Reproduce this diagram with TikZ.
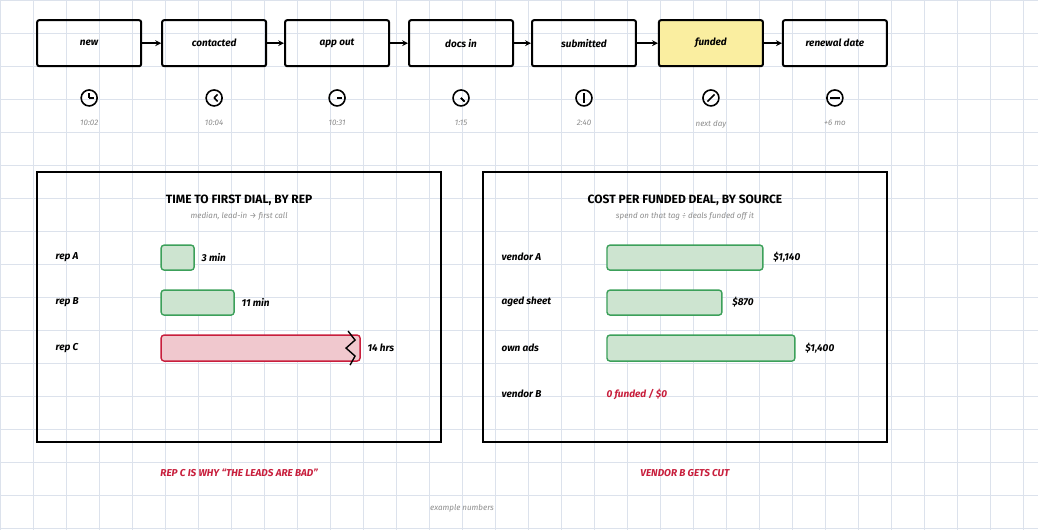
\documentclass[tikz,border=0pt]{standalone}
\usepackage{fontspec}
\setmainfont{Fira Sans}
\usetikzlibrary{positioning}
\definecolor{gridc}{RGB}{220,226,236}
\definecolor{okfill}{RGB}{205,228,208}
\definecolor{okline}{RGB}{60,160,90}
\definecolor{badfill}{RGB}{240,200,206}
\definecolor{badline}{RGB}{200,30,60}
\definecolor{hilite}{RGB}{250,238,160}
\tikzset{
  stage/.style={draw,line width=2pt,rounded corners=2pt,minimum width=104pt,minimum height=46pt,font=\bfseries\itshape},
  clock/.style={circle,draw,line width=1.6pt,minimum size=16pt,inner sep=0pt},
  stamp/.style={font=\itshape\footnotesize,text=black!45},
  panel/.style={draw,line width=2pt},
  good/.style={draw=okline,fill=okfill,line width=1.4pt,rounded corners=3pt},
  bad/.style={draw=badline,fill=badfill,line width=1.4pt,rounded corners=3pt},
  lbl/.style={font=\bfseries\itshape,anchor=west},
  note/.style={font=\bfseries\itshape,text=badline}
}
\begin{document}
\begin{tikzpicture}[x=1pt,y=-1pt,>=stealth]
  \fill[white] (0,0) rectangle (1038,530);
  \foreach \g in {0,33,...,1038} \draw[gridc] (\g,0) -- (\g,530);
  \foreach \g in {0,33,...,530} \draw[gridc] (0,\g) -- (1038,\g);
  \useasboundingbox (0,0) rectangle (1038,530);

  % pipeline
  \node[stage] (new)  at (89,43)  {new};
  \node[stage] (cont) at (214,43) {contacted};
  \node[stage] (app)  at (337,43) {app out};
  \node[stage] (docs) at (461,43) {docs in};
  \node[stage] (sub)  at (584,43) {submitted};
  \node[stage,fill=hilite] (fund) at (711,43) {funded};
  \node[stage] (ren)  at (835,43) {renewal date};
  \foreach \a/\b in {new/cont,cont/app,app/docs,docs/sub,sub/fund,fund/ren}
    \draw[->,line width=1.6pt] (\a) -- (\b);

  % clocks
  \foreach \s/\t/\h/\k in {new/10:02/90/0,cont/10:04/45/-45,app/10:31/0/0,docs/1:15/-45/-45,sub/2:40/90/-90,fund/next day/45/-135,ren/+6 mo/0/180}{
    \node[clock,below=22pt of \s] (c\s) {};
    \draw[line width=1.6pt] (c\s.center) -- ++(\h:5pt);
    \draw[line width=1.6pt] (c\s.center) -- ++(\k:5pt);
    \node[stamp,below=10pt of c\s] (t\s) {\t};
  }

  % left panel
  \draw[panel] (37,172) rectangle (441,442);
  \node[font=\bfseries\large] (ttl) at (239,200) {TIME TO FIRST DIAL, BY REP};
  \node[stamp,below=0pt of ttl] (subl) {median, lead-in → first call};
  \node[lbl] (ra) at (52,257) {rep A};
  \node[lbl] (rb) at (52,302) {rep B};
  \node[lbl] (rc) at (52,348) {rep C};
  \draw[good] (161,245) rectangle (194,270);
  \node[lbl] (va) at (198,257) {3 min};
  \draw[good] (161,290) rectangle (234,315);
  \node[lbl] (vb) at (238,302) {11 min};
  \draw[bad] (161,335) rectangle (360,361);
  \draw[line width=1.4pt] (348,331) -- (355,340) -- (346,348) -- (355,356) -- (350,365);
  \node[lbl] (vc) at (364,348) {14 hrs};

  % right panel
  \draw[panel] (483,172) rectangle (887,442);
  \node[font=\bfseries\large] (ttr) at (685,200) {COST PER FUNDED DEAL, BY SOURCE};
  \node[stamp,below=0pt of ttr] (subr) {spend on that tag ÷ deals funded off it};
  \node[lbl] (sa) at (498,257) {vendor A};
  \node[lbl] (sb) at (498,302) {aged sheet};
  \node[lbl] (sc) at (498,348) {own ads};
  \node[lbl] (sd) at (498,394) {vendor B};
  \draw[good] (607,245) rectangle (763,270);
  \node[lbl] (wa) at (770,257) {\$1,140};
  \draw[good] (607,290) rectangle (722,315);
  \node[lbl] (wb) at (729,302) {\$870};
  \draw[good] (607,335) rectangle (795,361);
  \node[lbl] (wc) at (802,348) {\$1,400};
  \node[lbl,text=badline] (wd) at (603,394) {0 funded / \$0};

  % notes
  \node[note] (n1) at (239,473) {REP C IS WHY ``THE LEADS ARE BAD''};
  \node[note] (n2) at (685,473) {VENDOR B GETS CUT};
  \node[stamp] (foot) at (462,508) {example numbers};
\end{tikzpicture}
\end{document}
